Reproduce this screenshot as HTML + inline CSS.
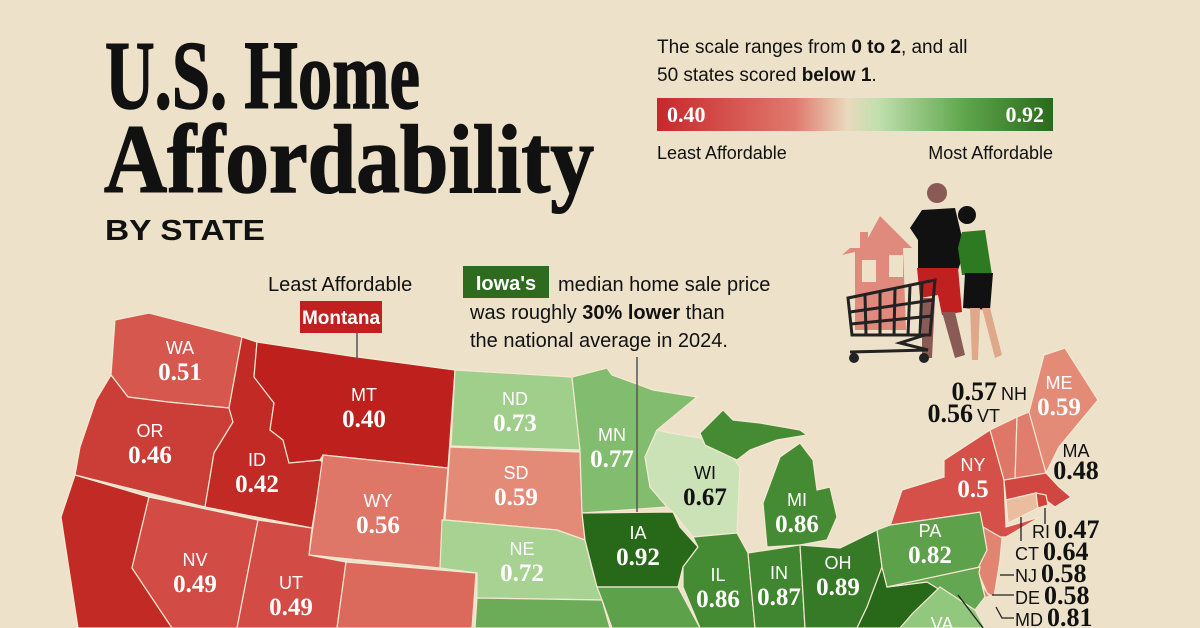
<!DOCTYPE html>
<html><head><meta charset="utf-8"><style>
html,body{margin:0;padding:0;background:#ede2c9;}
svg{display:block;}
.sans{font-family:"Liberation Sans",sans-serif;}
.serif{font-family:"Liberation Serif",serif;}
</style></head><body>
<svg id="chart" width="1200" height="628" viewBox="0 0 1200 628" xmlns="http://www.w3.org/2000/svg">
<rect width="1200" height="628" fill="#ede2c9"/>
<g>
<text x="105" y="108" class="serif" font-weight="bold" font-size="98" textLength="315" lengthAdjust="spacingAndGlyphs" fill="#111" stroke="#111" stroke-width="1.5">U.S. Home</text>
<text x="104" y="192" class="serif" font-weight="bold" font-size="98" textLength="490" lengthAdjust="spacingAndGlyphs" fill="#111" stroke="#111" stroke-width="1.5">Affordability</text>
<text x="105" y="240" class="sans" font-weight="bold" font-size="29" textLength="160" lengthAdjust="spacingAndGlyphs" fill="#111">BY STATE</text>
</g>
<g>
<text x="657" y="53" class="sans" font-size="19" fill="#111">The scale ranges from <tspan font-weight="bold">0 to 2</tspan>, and all</text>
<text x="657" y="81" class="sans" font-size="19" fill="#111">50 states scored <tspan font-weight="bold">below 1</tspan>.</text>
<defs><linearGradient id="lg" x1="0" x2="1">
<stop offset="0" stop-color="#c8272a"/><stop offset="0.35" stop-color="#e07a6e"/><stop offset="0.48" stop-color="#ead9bd"/><stop offset="0.56" stop-color="#bfe0ad"/><stop offset="0.78" stop-color="#5ea54a"/><stop offset="1" stop-color="#2a6a1c"/></linearGradient></defs>
<rect x="657" y="98" width="396" height="33" fill="url(#lg)"/>
<text x="667" y="122" class="serif" font-weight="bold" font-size="22" fill="#fff">0.40</text>
<text x="1044" y="122" text-anchor="end" class="serif" font-weight="bold" font-size="22" fill="#fff">0.92</text>
<text x="657" y="159" class="sans" font-size="18" fill="#111">Least Affordable</text>
<text x="1053" y="159" text-anchor="end" class="sans" font-size="18" fill="#111">Most Affordable</text>
</g>
<g>
<polygon points="850,248 860,248 860,232 868,232 868,238 880,216 912,248 903,248 906,330 855,330 855,252 842,255" fill="#df8a7c"/>
<rect x="862" y="260" width="14" height="22" fill="#efe0c8"/>
<rect x="889" y="255" width="14" height="22" fill="#efe0c8"/>
<circle cx="937" cy="193" r="10" fill="#8a5a55"/>
<polygon points="922,210 955,208 965,250 958,270 918,270 918,240 910,228" fill="#111"/>
<polygon points="917,268 958,268 962,312 942,315 938,295 920,298" fill="#c0201f"/>
<polygon points="922,298 935,298 932,358 922,358" fill="#8a5a55"/>
<polygon points="942,312 955,312 965,355 955,358" fill="#8a5a55"/>
<circle cx="967" cy="215" r="9" fill="#111"/>
<polygon points="962,232 985,230 992,275 962,275 958,248" fill="#2e7a22"/>
<polygon points="965,273 993,273 990,310 963,308" fill="#111"/>
<polygon points="970,308 980,308 978,360 972,360" fill="#e0a88a"/>
<polygon points="982,308 990,308 1002,355 995,358" fill="#e0a88a"/>
<g stroke="#222" stroke-width="3" fill="none">
<polygon points="848,298 935,280 930,335 852,335"/>
<line x1="850" y1="312" x2="933" y2="300"/><line x1="851" y1="324" x2="932" y2="316"/>
<line x1="865" y1="295" x2="866" y2="335"/><line x1="880" y1="292" x2="880" y2="335"/><line x1="895" y1="289" x2="894" y2="335"/><line x1="910" y1="286" x2="908" y2="335"/><line x1="922" y1="283" x2="920" y2="335"/>
<polyline points="925,335 900,343 928,350 850,352"/>
</g>
<circle cx="854" cy="358" r="5" fill="#222"/>
<circle cx="924" cy="358" r="5" fill="#222"/>
</g>
<g id="map"></g>
<g id="labels"></g>
<g stroke="#222" stroke-width="1.3" fill="none">
<polyline points="1045,508 1045,524"/>
<polyline points="1021,517 1021,541"/>
<polyline points="1000,575 1014,575"/>
<polyline points="992,595 1014,595"/>
<polyline points="996,607 1002,618 1014,618"/>
<polyline points="958,595 983,628"/>
</g>
<g>
<text x="268" y="291" class="sans" font-size="20" fill="#111">Least Affordable</text>
<rect x="300" y="301" width="82" height="32" fill="#c0201f"/>
<text x="341" y="324" text-anchor="middle" class="sans" font-weight="bold" font-size="19" fill="#fff">Montana</text>
<line x1="357" y1="333" x2="357" y2="360" stroke="#555" stroke-width="1.5"/>
<rect x="463" y="266" width="86" height="32" fill="#2e6b1e"/>
<text x="506" y="290" text-anchor="middle" class="sans" font-weight="bold" font-size="20" fill="#fff">Iowa's</text>
<text x="558" y="291" class="sans" font-size="20" fill="#111">median home sale price</text>
<text x="470" y="319" class="sans" font-size="20" fill="#111">was roughly <tspan font-weight="bold">30% lower</tspan> than</text>
<text x="470" y="347" class="sans" font-size="20" fill="#111">the national average in 2024.</text>
<line x1="637" y1="357" x2="637" y2="512" stroke="#555" stroke-width="1.5"/>
</g>
</svg>
<script>
const states = ["WA","OR","CA","ID","MT","WY","NV","UT","CO","ND","SD","NE","KS","MN","IA","MO","WI","MI","IL","IN","OH","KY","WV","PA","NY","VT","NH","ME","MA","CT","RI","NJ","DE","MD","VA"];
const values = [0.51,0.46,0.42,0.42,0.40,0.56,0.49,0.49,0.54,0.73,0.59,0.72,0.80,0.77,0.92,0.82,0.67,0.86,0.86,0.87,0.89,0.90,0.92,0.82,0.50,0.56,0.57,0.59,0.48,0.64,0.47,0.58,0.58,0.81,0.75];
const shapes = {
WA:"115,320 149,313 242,337 229,408 168,402 128,397 111,375",
OR:"111,375 128,397 168,402 229,408 233,422 214,453 205,507 75,475 80,447 96,400",
CA:"75,475 149,497 132,568 172,628 78,628 61,517",
ID:"242,337 257,342 254,377 274,403 270,430 283,440 289,463 320,460 323,463 312,528 205,507 214,453 233,422 229,408",
MT:"257,342 350,356 455,370 448,468 323,455 320,460 289,463 283,440 270,430 274,403 254,377",
WY:"323,455 448,468 440,568 309,555",
NV:"149,497 258,520 237,628 172,628 132,568",
UT:"258,520 312,528 309,555 346,562 337,628 237,628",
CO:"346,562 476,573 472,628 337,628",
ND:"455,370 572,377 580,450 451,446",
SD:"450,447 580,452 582,513 585,540 557,530 445,520",
NE:"445,520 557,530 585,540 593,573 602,600 477,598 477,573 440,568 442,520",
KS:"477,598 602,600 610,628 475,628",
MN:"572,377 607,368 612,375 653,390 697,397 657,430 645,457 650,487 667,507 582,513 580,450",
IA:"582,513 673,512 680,527 698,547 683,567 678,587 597,587 585,540",
MO:"602,600 597,587 678,587 700,628 612,628",
WI:"645,457 657,430 670,433 713,440 727,450 740,467 737,533 693,537 673,512 667,507 650,487",
MI:"767,547 763,503 780,457 800,443 813,460 817,490 830,487 837,517 827,540 800,545 Z M700,433 723,410 733,420 760,423 800,430 807,435 777,440 750,450 737,460 705,445",
IL:"693,537 737,533 748,553 755,628 700,628 683,587 683,567 698,547",
IN:"748,553 800,545 805,628 755,628",
OH:"800,545 840,548 877,530 882,567 867,607 857,628 805,628",
KY:"755,628 805,628 857,628 840,628",
WV:"882,567 887,587 927,582 940,587 913,613 900,628 857,628 867,607",
PA:"877,530 890,525 980,512 990,547 980,567 887,587 882,567",
NY:"891,523 902,490 944,477 944,460 990,430 1004,480 1006,527 1040,517 1006,537 1000,537 983,527 980,512 890,525",
VT:"990,430 1017,417 1015,480 1004,480",
NH:"1017,417 1029,412 1046,473 1015,480",
ME:"1029,412 1044,355 1065,348 1098,400 1059,447 1046,473",
MA:"1004,480 1046,473 1059,487 1071,497 1055,507 1036,493 1006,500",
CT:"1006,500 1036,493 1038,508 1008,523",
RI:"1036,493 1046,495 1048,505 1038,508",
NJ:"983,527 1002,538 1000,560 994,597 987,593 977,570 987,550",
DE:"979,573 983,587 990,597 985,597",
MD:"887,587 980,567 979,573 985,597 975,610 940,590 927,582",
VA:"900,628 913,613 940,587 975,610 985,628"};
// label placement: [x, value baseline]
const labelPos = {WA:[180,380],OR:[150,463],ID:[257,492],MT:[364,427],WY:[378,533],NV:[195,592],UT:[291,615],ND:[515,431],SD:[516,505],NE:[522,581],MN:[612,467],IA:[638,565],WI:[705,505],MI:[797,532],IL:[718,607],IN:[779,605],OH:[838,595],PA:[930,563],NY:[973,497],ME:[1059,415]};
function colorFor(v){
  const stops=[[0.40,[190,32,30]],[0.50,[212,80,72]],[0.60,[230,145,125]],[0.645,[234,195,165]],[0.67,[203,226,182]],[0.75,[145,200,125]],[0.84,[78,150,60]],[0.92,[40,104,25]]];
  for(let i=0;i<stops.length-1;i++){const a=stops[i],b=stops[i+1];
    if(v<=b[0]){const t=Math.max(0,(v-a[0])/(b[0]-a[0]));return "rgb("+a[1].map((c,k)=>Math.round(c+(b[1][k]-c)*t)).join(",")+")";}}
  return "rgb(40,104,25)";
}
const NS="http://www.w3.org/2000/svg";
const map=document.getElementById("map"), lab=document.getElementById("labels");
states.forEach((s,i)=>{
  const p=document.createElementNS(NS,"path");
  const d=shapes[s].split(" M").map(seg=>"M"+seg.replace(/^M/,"").replace(/ Z$/,"").trim().split(" ").join(" L")+" Z").join(" ");
  p.setAttribute("d",d);
  p.setAttribute("fill",colorFor(values[i]));
  p.setAttribute("stroke","#f3e8d2");p.setAttribute("stroke-width","1.2");
  
  
  map.appendChild(p);
  if(labelPos[s]){
    const x=labelPos[s][0], y=labelPos[s][1]; const v=values[i];
    const dark=!(v>0.62&&v<0.70);
    const t1=document.createElementNS(NS,"text");
    t1.setAttribute("x",x);t1.setAttribute("y",y-26);t1.setAttribute("text-anchor","middle");
    t1.setAttribute("class","sans");t1.setAttribute("font-size","18");t1.setAttribute("fill",dark?"#fff":"#111");
    t1.textContent=s;
    
    
    lab.appendChild(t1);
    const t2=document.createElementNS(NS,"text");
    t2.setAttribute("x",x);t2.setAttribute("y",y);t2.setAttribute("text-anchor","middle");
    t2.setAttribute("class","serif");t2.setAttribute("font-weight","bold");t2.setAttribute("font-size","25");t2.setAttribute("fill",dark?"#fff":"#111");
    t2.textContent=(s==="NY")?String(v):v.toFixed(2);
    
    
    lab.appendChild(t2);
  }
});
const vaT=document.createElementNS(NS,"text");
vaT.setAttribute("x",942);vaT.setAttribute("y",630);vaT.setAttribute("text-anchor","middle");
vaT.setAttribute("class","sans");vaT.setAttribute("font-size","18");vaT.setAttribute("fill","#fff");
vaT.textContent="VA";


lab.appendChild(vaT);
// external labels
const extStates=["NH","VT","MA","RI","CT","NJ","DE","MD"];
const extPos={NH:[1027,400,"left"],VT:[1000,422,"left"],MA:[1076,457,"above"],RI:[1032,538,"right"],CT:[1015,560,"right"],NJ:[1015,582,"right"],DE:[1015,604,"right"],MD:[1015,626,"right"]};
extStates.forEach(s=>{
  const v=values[states.indexOf(s)];const x=extPos[s][0],y=extPos[s][1],m=extPos[s][2];
  const g=document.createElementNS(NS,"text");
  g.setAttribute("y",y);g.setAttribute("fill","#111");
  
  
  if(m==="left"){g.setAttribute("x",x);g.setAttribute("text-anchor","end");
    g.innerHTML='<tspan class="serif" font-weight="bold" font-size="26">'+v.toFixed(2)+'</tspan><tspan class="sans" font-size="18" dx="4">'+s+'</tspan>';}
  else if(m==="above"){g.setAttribute("text-anchor","middle");
    g.innerHTML='<tspan class="sans" font-size="18" x="'+x+'" y="'+y+'">'+s+'</tspan><tspan class="serif" font-weight="bold" font-size="26" x="'+x+'" y="'+(y+22)+'">'+v.toFixed(2)+'</tspan>';}
  else {g.setAttribute("x",x);g.setAttribute("text-anchor","start");
    g.innerHTML='<tspan class="sans" font-size="18">'+s+'</tspan><tspan class="serif" font-weight="bold" font-size="26" dx="4">'+v.toFixed(2)+'</tspan>';}
  lab.appendChild(g);
});
</script>
</body></html>
